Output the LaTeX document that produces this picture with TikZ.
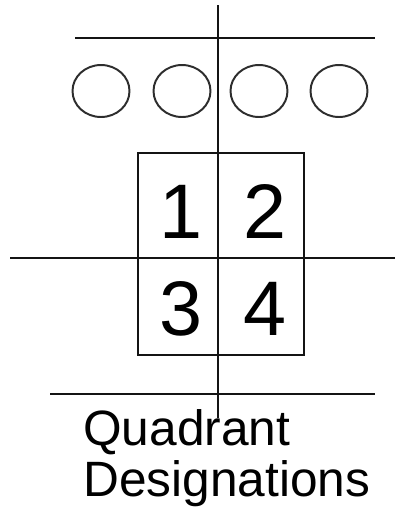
\documentclass[tikz,border=0pt]{standalone}
\usepackage{fontspec}
\setmainfont{Liberation Sans}
\usetikzlibrary{positioning}
\definecolor{lineblack}{RGB}{20, 20, 20}
\definecolor{holegray}{RGB}{45, 45, 45}
\tikzset{
  rule/.style={lineblack, line width=1.4pt},
  hole/.style={holegray, line width=1.4pt},
  digit/.style={inner sep=0pt, anchor=base, font=\fontsize{55}{55}\selectfont},
  caption/.style={inner sep=0pt, anchor=base west, font=\fontsize{35.3}{36}\selectfont}
}

\begin{document}
\begin{tikzpicture}[x=0.025cm, y=-0.025cm]
  \useasboundingbox (0,0) rectangle (395,515);
  %--- rails and holes -------------------------------------------------------
  \draw[rule] (75,38) -- (375,38);
  \foreach \cx in {101,182,259,339}
    \draw[hole] (\cx,91) ellipse[x radius=28.5, y radius=26];
  %--- quadrant box ----------------------------------------------------------
  \draw[rule] (138,153) rectangle (304,355);
  \draw[rule] (10,258) -- (395,258);
  \draw[rule] (218,5) -- (218,418);
  \draw[rule] (50,394) -- (375,394);
  % quadrant numbers
  \node[digit] (q1) at (181,238) {1};
  \node[digit] (q2) at (265,238) {2};
  \node[digit] (q3) at (181,335) {3};
  \node[digit] (q4) at (265,335) {4};
  %--- caption ---------------------------------------------------------------
  \node[caption] (capA) at (83,445) {Quadrant};
  \node[caption] (capB) at (83,496) {Designations};
\end{tikzpicture}
\end{document}
